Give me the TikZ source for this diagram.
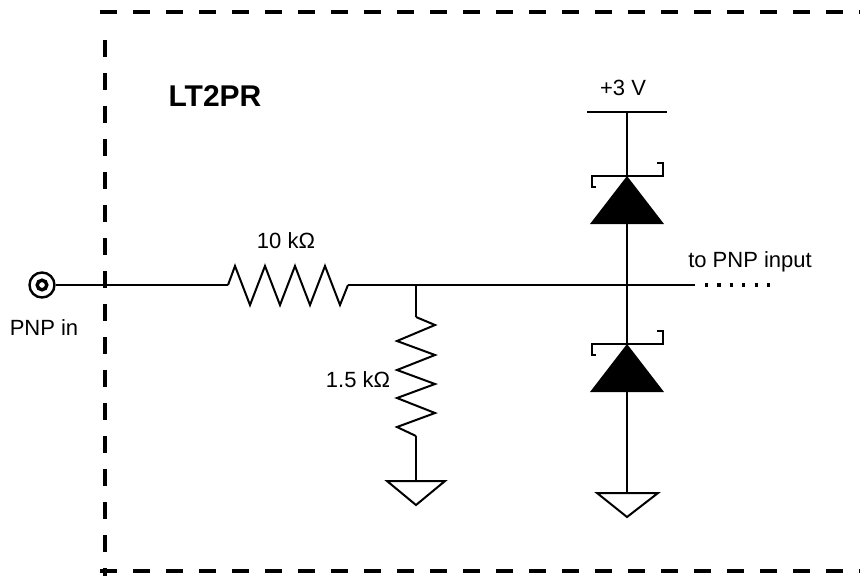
\documentclass[tikz,border=0pt]{standalone}
\usepackage{fontspec}
\setmainfont{Liberation Sans}
\usetikzlibrary{calc}

\begin{document}
\begin{tikzpicture}[x=0.5pt,y=-0.5pt,line width=1pt,line join=miter,
  txt/.style={inner sep=0pt,font=\fontsize{11}{13}\selectfont},
  outline/.style={line width=2.4pt,dash pattern=on 8.5pt off 8pt},
  jackring/.style={circle,draw,line width=1.2pt,inner sep=0pt,minimum size=12.5pt}]
\useasboundingbox (0,0) rectangle (860,575);
\clip (0,0) rectangle (860,575);

% module outline (dashed)
\draw[outline] (100,12) -- (870,12);
\draw[outline] (105,40) -- (105,580);
\draw[outline] (100,571) -- (870,571);
\node[txt,font=\fontsize{15}{17}\selectfont\bfseries] (title) at (215,96) {LT2PR};

% input jack
\node[jackring] (jack) at (42,285) {};
\draw[line width=1.7pt] (jack.center) circle (2.4pt);
\node[txt] (inlbl) at (44,328) {PNP in};

% series resistor 10k
\coordinate (ra) at (228,285);
\coordinate (rb) at (348,285);
\draw (jack.east) -- (ra);
\draw plot coordinates {(228,285) (235,266) (250,305) (265,266) (280,305) (295,266) (310,305) (325,266) (340,305) (348,285)};
\node[txt] (rlbl) at (286,241) {10 kΩ};

% main node and output
\coordinate (tap) at (416,285);
\coordinate (dnode) at (627,285);
\coordinate (outA) at (695,285);
\coordinate (outB) at (770,285);
\draw (rb) -- (tap) -- (dnode) -- (outA);
\draw[line width=1.6pt,dash pattern=on 1.6pt off 4.6pt] ($(outA)+(10,0)$) -- (outB);
\node[txt] (outlbl) at (750,262) {to PNP input};

% shunt resistor 1.5k
\coordinate (rc) at (416,317);
\coordinate (rd) at (416,436);
\coordinate (gndA) at (416,481);
\draw (tap) -- (rc);
\draw plot coordinates {(416,317) (435,325) (397,341) (435,355) (397,370) (435,384) (397,398) (435,413) (397,427) (416,436)};
\draw (rd) -- (gndA);
\draw (387,481) -- (445,481) -- (416,505) -- cycle;
\node[txt] (r2lbl) at (358,380) {1.5 kΩ};

% supply rail
\coordinate (vcc) at (627,112);
\draw (587,112) -- (667,112);
\node[txt] (vlbl) at (623,88) {+3 V};

% clamp diodes
\foreach \a in {176,344}{
  \begin{scope}[shift={(627,\a)}]
    \fill (0,0) -- (-37,48) -- (37,48) -- cycle;
    \draw (-31,11) -- (-35,11) -- (-35,0) -- (36,0) -- (36,-13) -- (30,-13);
  \end{scope}
}
\coordinate (dka) at (627,176);
\coordinate (daa) at (627,224);
\coordinate (dkb) at (627,344);
\coordinate (dab) at (627,392);
\coordinate (gndB) at (627,493);
\draw (vcc) -- (dka);
\draw (daa) -- (dkb);
\draw (dab) -- (gndB);
\draw (597,493) -- (658,493) -- (627,517) -- cycle;
\end{tikzpicture}
\end{document}
